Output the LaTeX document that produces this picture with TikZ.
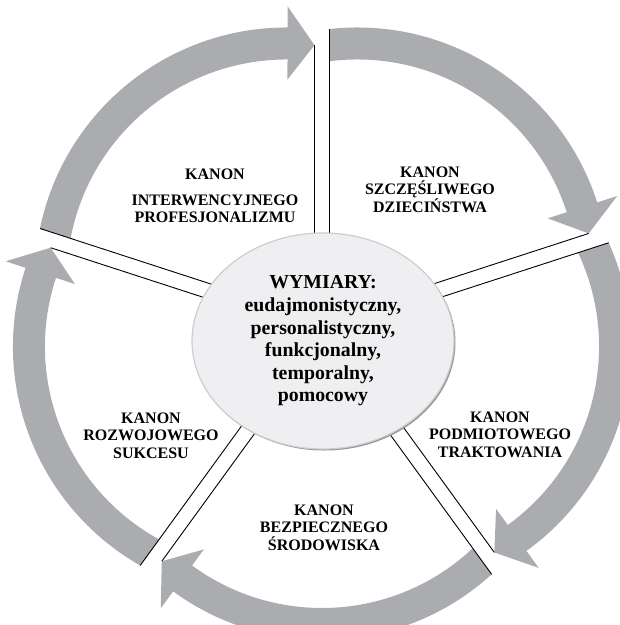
\documentclass[tikz,border=0pt]{standalone}
\usepackage{fontspec}
\setmainfont{Liberation Serif}
\usetikzlibrary{shapes.geometric}
\definecolor{arrowgray}{RGB}{171,172,176}
\definecolor{ellfill}{RGB}{239,239,241}
\definecolor{ellline}{RGB}{205,205,208}
\definecolor{ellshadow}{RGB}{150,150,154}
% angle (around an arrow's own centre) where a circle of radius #2 meets the
% divider line offset 7.5px from the radial direction
\newcommand\CalcArcAngle[2]{%
  \pgfmathsetmacro\tmpR{#2/100}%
  \pgfmathsetmacro\tmpE{\ArcE/100}%
  \pgfmathsetmacro\tmpr{\tmpE*cos(36) + sqrt((\tmpE*cos(36))^2 - 0.005625 + 0.15*\tmpE*sin(36) - \tmpE^2 + \tmpR^2)}%
  \pgfmathsetmacro\tmpx{\tmpr*cos(36) + 0.075*sin(36) - \tmpE}%
  \pgfmathsetmacro\tmpy{\tmpr*sin(36) - 0.075*cos(36)}%
  \pgfmathsetmacro#1{atan2(\tmpy,\tmpx)}%
}
\begin{document}
\begin{tikzpicture}[x=1pt,y=1pt,
  ringarrow/.style={fill=arrowgray},
  divline/.style={draw=black, line width=0.9pt},
  kanon/.style={font=\bfseries\fontsize{16}{17.5}\selectfont, align=center, inner sep=0pt, anchor=north},
  hubstyle/.style={ellipse, fill=ellfill, draw=ellline, line width=1.2pt, minimum width=262pt, minimum height=216pt, inner sep=0pt, align=center, font=\bfseries\fontsize{19.8}{22.6}\selectfont}]
\useasboundingbox (0,0) rectangle (620,-625);
\def\ArcE{60}
\def\ArcRo{252}
\def\ArcRi{220}
\def\ArcRm{236}
\CalcArcAngle\AngO{\ArcRo}
\CalcArcAngle\AngI{\ArcRi}
\CalcArcAngle\AngM{\ArcRm}
\pgfmathsetmacro\AngTip{-\AngM}
\pgfmathsetmacro\AngBack{\AngTip + 27/\ArcRm*57.2958}
\pgfmathsetmacro\RBo{\ArcRo+21}
\pgfmathsetmacro\RBi{\ArcRi-20}
% ring of five arrows, each on its own centre
\foreach \k in {0,...,4} {
  \pgfmathsetmacro\ArmPhi{54-72*\k}
  \pgfmathsetmacro\ArmCx{322+\ArcE*cos(\ArmPhi)}
  \pgfmathsetmacro\ArmCy{-328+\ArcE*sin(\ArmPhi)}
  \begin{scope}[shift={(\ArmCx,\ArmCy)}, rotate=\ArmPhi]
    \fill[ringarrow] (\AngO:\ArcRo pt) arc[start angle=\AngO, end angle=\AngBack, radius=\ArcRo pt]
       -- (\AngBack:\RBo pt) -- (\AngTip:\ArcRm pt) -- (\AngBack:\RBi pt) -- (\AngBack:\ArcRi pt)
       arc[start angle=\AngBack, end angle=\AngI, radius=\ArcRi pt] -- cycle;
    \coordinate (tail\k) at (\AngO:\ArcRo pt);
    \coordinate (tip\k) at (\AngTip:\ArcRm pt);
  \end{scope}
}
% dividers (double lines)
\foreach \k in {0,...,4} {
  \pgfmathsetmacro\DivAng{90-72*\k}
  \pgfmathtruncatemacro\kprev{mod(\k+4,5)}
  \begin{scope}[shift={(322,-328)}, rotate=\DivAng]
    \coordinate (hs\k) at (60,7.5);
    \coordinate (ts\k) at (60,-7.5);
  \end{scope}
  \draw[divline] (ts\k) -- (tail\k);
  \draw[divline] (hs\k) -- (tip\kprev);
}
% hub
\fill[ellshadow] (324.5,-342.5) ellipse[x radius=131pt, y radius=108pt];
\node[hubstyle] (hub) at (323,-341) {WYMIARY:\\eudajmonistyczny,\\personalistyczny,\\funkcjonalny,\\temporalny,\\pomocowy};
% labels
\node[kanon] (k1) at (215,-168.7) {KANON\\[8.5pt]INTERWENCYJNEGO\\PROFESJONALIZMU};
\node[kanon] (k2) at (430,-166.5) {KANON\\SZCZĘŚLIWEGO\\DZIECIŃSTWA};
\node[kanon] (k3) at (500,-411.5) {KANON\\PODMIOTOWEGO\\TRAKTOWANIA};
\node[kanon] (k4) at (324,-504.5) {KANON\\BEZPIECZNEGO\\ŚRODOWISKA};
\node[kanon] (k5) at (151,-412.5) {KANON\\ROZWOJOWEGO\\SUKCESU};
\end{tikzpicture}
\end{document}
